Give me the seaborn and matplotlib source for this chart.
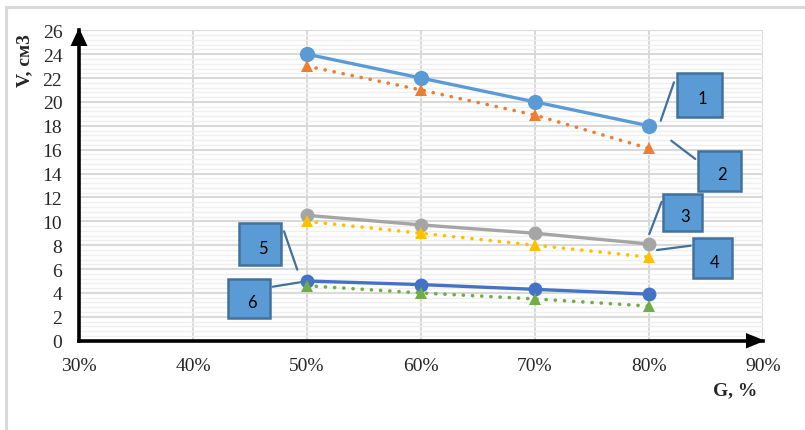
import matplotlib
matplotlib.use("Agg")
import matplotlib.pyplot as plt
import matplotlib.transforms as mtransforms
from matplotlib.patches import Rectangle, Polygon
from matplotlib.lines import Line2D
from matplotlib.ticker import MultipleLocator, FuncFormatter
import numpy as np
import pandas as pd
import seaborn as sns

# ---- data ----
G = [50, 60, 70, 80]
v1 = [24.0, 22.0, 20.0, 18.0]
v2 = [23.0, 21.0, 18.9, 16.1]
v3 = [10.5, 9.7, 9.0, 8.1]
v4 = [10.0, 9.0, 8.0, 7.0]
v5 = [5.0, 4.7, 4.3, 3.9]
v6 = [4.6, 4.0, 3.5, 2.9]
series_names = ["1", "2", "3", "4", "5", "6"]
x_ticks = [30, 40, 50, 60, 70, 80, 90]
y_ticks = list(range(0, 27, 2))

sns.set_style("white")
plt.rcParams["font.family"] = ["Liberation Serif", "DejaVu Serif"]

W, H, DPI = 805, 431, 100
fig = plt.figure(figsize=(W / DPI, H / DPI), dpi=DPI)
# pixel transform with origin at top-left
px = mtransforms.Affine2D().scale(1 / DPI, -1 / DPI).translate(0, H / DPI) + fig.dpi_scale_trans

x0, x1, y0, y1 = 79, 763, 341.7, 31.3
ax = fig.add_axes([x0 / W, 1 - y0 / H, (x1 - x0) / W, (y0 - y1) / H])

df = pd.DataFrame({
    "G": G * 6,
    "V": v1 + v2 + v3 + v4 + v5 + v6,
    "s": sum([[n] * len(G) for n in series_names], []),
})

dots = (0, (0.05, 2.5))
styles = {
    "1": dict(color="#5B9BD5", marker="o", ls="-", ms=11, lw=2.4),
    "2": dict(color="#ED7D31", marker="^", ls=dots, ms=9, lw=2.6),
    "3": dict(color="#A5A5A5", marker="o", ls="-", ms=10, lw=2.4),
    "4": dict(color="#FFC000", marker="^", ls=dots, ms=9, lw=2.6),
    "5": dict(color="#4472C4", marker="o", ls="-", ms=10, lw=2.4),
    "6": dict(color="#70AD47", marker="^", ls=dots, ms=9, lw=2.6),
}

for name in series_names:
    st = styles[name]
    sub = df[df["s"] == name]
    sns.lineplot(data=sub, x="G", y="V", ax=ax, color=st["color"], marker=st["marker"],
                 markersize=st["ms"], markeredgewidth=0, linewidth=st["lw"],
                 linestyle=st["ls"], dash_capstyle="round", legend=False, zorder=3)

ax.set_xlim(30, 90)
ax.set_ylim(0, 26)
ax.set_xticks(x_ticks)
ax.set_yticks(y_ticks)
ax.yaxis.set_minor_locator(MultipleLocator(0.4))
ax.xaxis.set_major_formatter(FuncFormatter(lambda v, p: f"{v:.0f}%"))
ax.set_xlabel("")
ax.set_ylabel("")

ax.grid(which="major", color="#D9D9D9", lw=1.5, zorder=0)
ax.grid(which="minor", axis="y", color="#EFEFEF", lw=1.0, zorder=0)
ax.set_axisbelow(True)

for side in ["top", "right"]:
    ax.spines[side].set_visible(False)
for side in ["left", "bottom"]:
    ax.spines[side].set_color("black")
    ax.spines[side].set_linewidth(2.6)
    ax.spines[side].set_zorder(4)

ax.tick_params(axis="y", which="major", direction="in", length=5, width=2, color="black",
               labelsize=14, pad=12)
ax.tick_params(axis="y", which="minor", direction="in", length=3.5, width=2, color="black")
ax.tick_params(axis="x", which="both", length=0, labelsize=14, pad=12)

# axis arrows
fig.patches.append(Polygon([(79, 29), (70.5, 47), (87.5, 47)], closed=True,
                           facecolor="black", edgecolor="none", transform=px, zorder=5))
fig.patches.append(Polygon([(765, 341.7), (746, 334), (746, 349.5)], closed=True,
                           facecolor="black", edgecolor="none", transform=px, zorder=5))

# chart frame (top and left edges)
fig.lines.append(Line2D([5.5, 5.5], [7.5, 431], color="#D9D9D9", lw=2.2, transform=px))
fig.lines.append(Line2D([5.5, 805], [7.5, 7.5], color="#D9D9D9", lw=2.2, transform=px))

# axis titles
fig.text(25, 61, "V, см3", transform=px, rotation=90, ha="center", va="center",
         fontsize=14, fontweight="bold")
fig.text(735, 391, "G, %", transform=px, ha="center", va="center",
         fontsize=14, fontweight="bold")

# series callouts: (box left, top, right, bottom), leader line endpoints
callouts = {
    "1": ((677, 74, 722, 118), ((660.7, 121.7), (674, 83.3))),
    "2": ((698, 152, 741, 192), ((671.3, 141.7), (695.3, 160))),
    "3": ((663, 195, 702, 232), ((649.3, 235), (661.7, 202.7))),
    "4": ((693, 239, 732, 279), ((657, 251), (690.7, 246.7))),
    "5": ((239, 224, 281, 266), ((284, 232.3), (297.3, 270.7))),
    "6": ((228, 280, 270, 319), ((272.7, 287.7), (300, 283.3))),
}
for name, ((l, t, r, b), (p, q)) in callouts.items():
    fig.lines.append(Line2D([p[0], q[0]], [p[1], q[1]], color="#41719C", lw=1.6,
                            transform=px, zorder=6))
    fig.patches.append(Rectangle((l, b), r - l, t - b, transform=px, facecolor="#5B9BD5",
                                 edgecolor="#41719C", lw=1.8, zorder=6))
    fig.text((l + r) / 2 + 2.5, (t + b) / 2 + 3.5, name, transform=px, ha="center",
             va="center", fontsize=12, family=["Lato", "DejaVu Sans"], color="black",
             zorder=7)

fig.savefig("out.png", dpi=DPI)
